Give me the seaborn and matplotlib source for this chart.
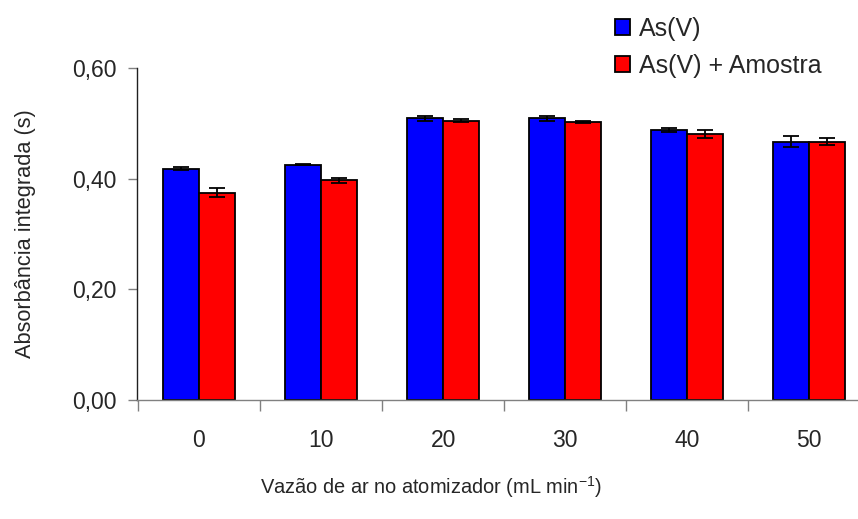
import matplotlib
matplotlib.use('Agg')
import matplotlib.pyplot as plt
import seaborn as sns
import pandas as pd
import numpy as np
from matplotlib.ticker import FuncFormatter, FixedLocator

# dados
vazao = ['0', '10', '20', '30', '40', '50']
as_v = [0.418, 0.425, 0.509, 0.509, 0.488, 0.467]
as_v_err = [0.003, 0.001, 0.005, 0.005, 0.004, 0.010]
as_v_amostra = [0.375, 0.397, 0.505, 0.502, 0.481, 0.467]
as_v_amostra_err = [0.009, 0.005, 0.002, 0.002, 0.007, 0.007]
series = ['As(V)', 'As(V) + Amostra']
colors = ['#0000ff', '#ff0000']

sns.set_style('white')
plt.rcParams['font.family'] = ['Liberation Sans', 'DejaVu Sans']
plt.rcParams['mathtext.fontset'] = 'custom'
plt.rcParams['mathtext.rm'] = 'Liberation Sans'
plt.rcParams['mathtext.default'] = 'regular'

df = pd.DataFrame({
    'vazao': vazao * 2,
    'abs': as_v + as_v_amostra,
    'err': as_v_err + as_v_amostra_err,
    'serie': [series[0]] * len(vazao) + [series[1]] * len(vazao),
})

fig = plt.figure(figsize=(8.58, 5.19), dpi=100)
ax = fig.add_axes([137/858, 1 - 400/519, (858 - 137)/858, (400 - 68)/519])

sns.barplot(data=df, x='vazao', y='abs', hue='serie', palette=colors,
            width=0.59, edgecolor='black', linewidth=1.3, errorbar=None,
            saturation=1, ax=ax, legend=False)

# barras de erro
for cont, s in zip(ax.containers, series):
    sub = df[df['serie'] == s]
    xs = [p.get_x() + p.get_width() / 2 for p in cont.patches]
    ax.errorbar(xs, sub['abs'].values, yerr=sub['err'].values, fmt='none',
                ecolor='black', elinewidth=1.3, capsize=6, capthick=1.3, zorder=5)

ax.set_xlim(-0.508, 5.40)
ax.set_ylim(0, 0.6)
ax.yaxis.set_major_locator(FixedLocator([0, 0.2, 0.4, 0.6]))
ax.yaxis.set_major_formatter(FuncFormatter(lambda v, p: f'{v:.2f}'.replace('.', ',')))
ax.xaxis.set_minor_locator(FixedLocator(np.arange(-0.5, 6, 1)))
ax.tick_params(axis='x', which='major', length=0, pad=21, labelsize=16.5)
ax.tick_params(axis='x', which='minor', length=8, width=1, color='#808080', bottom=True)
ax.tick_params(axis='y', which='major', length=6.5, width=1, color='#808080', left=True,
               labelsize=16.5, pad=8)

for s in ['top', 'right']:
    ax.spines[s].set_visible(False)
ax.spines['left'].set_color('#202020')
ax.spines['bottom'].set_color('#808080')
ax.spines['left'].set_linewidth(1)
ax.spines['bottom'].set_linewidth(1)

ax.set_xlabel('Vazão de ar no atomizador (mL min$^{-1}$)', fontsize=14.4, labelpad=18)
ax.xaxis.set_label_coords((431 - 137) / 721, -0.222)
ax.set_ylabel('Absorbância integrada (s)', fontsize=15.7, labelpad=26)

handles = [plt.Rectangle((0, 0), 1, 1, facecolor=c, edgecolor='black', linewidth=1.3) for c in colors]
fig.legend(handles, series, loc='upper left', bbox_to_anchor=(615/858, 1 - 17/519),
           frameon=False, fontsize=18, handlelength=0.6, handleheight=0.6, borderpad=0,
           borderaxespad=0, handletextpad=0.35, labelspacing=0.52)

plt.savefig('out.png', dpi=100)
